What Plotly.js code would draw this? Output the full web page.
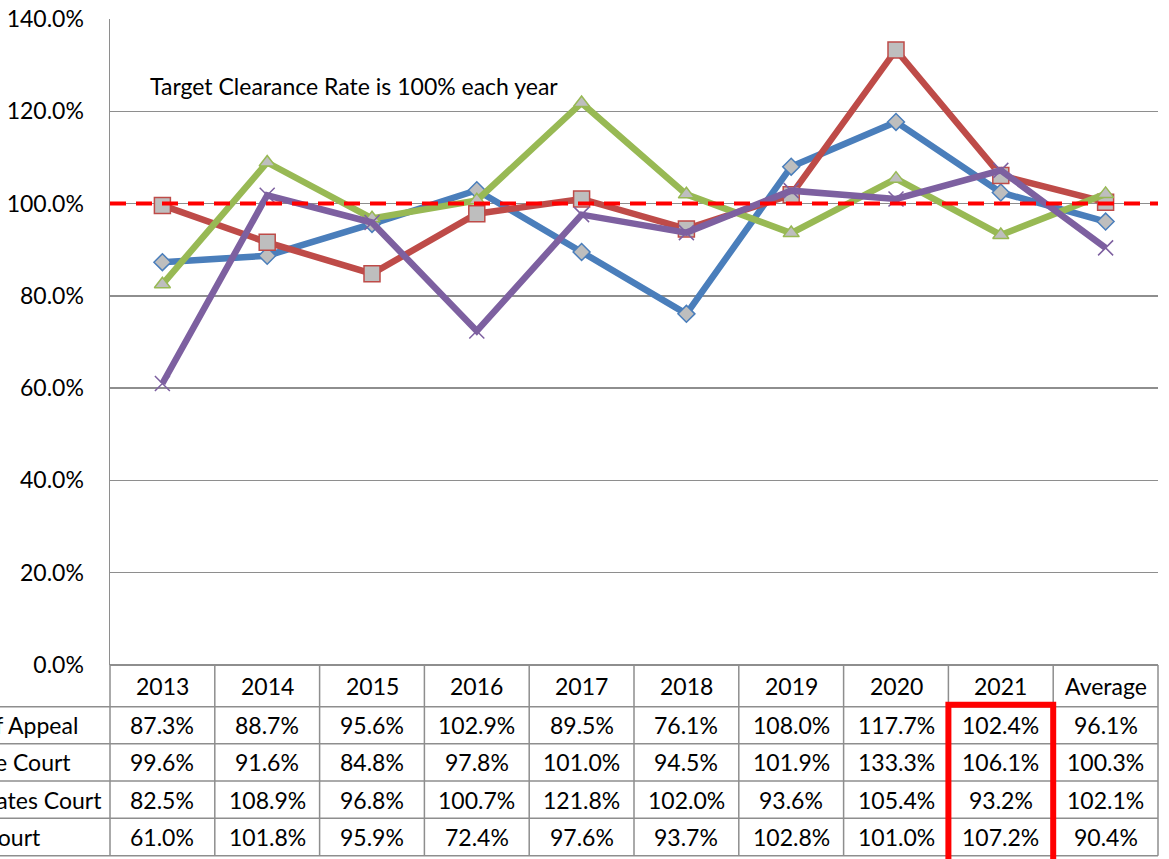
<!DOCTYPE html>
<html>
<head>
<meta charset="utf-8">
<script src="https://cdn.plot.ly/plotly-3.0.1.min.js"></script>
<style>
  html, body { margin: 0; padding: 0; background: #ffffff; }
  #chart { width: 1169px; height: 859px; }
</style>
</head>
<body>
<div id="chart"></div>
<script>
// ---- Data ----
const categories = ['2013', '2014', '2015', '2016', '2017', '2018', '2019', '2020', '2021', 'Average'];
const seriesNames = ['Court of Appeal', 'Supreme Court', 'Magistrates Court', 'Youth Court'];
const courtOfAppeal    = [87.3, 88.7, 95.6, 102.9, 89.5, 76.1, 108.0, 117.7, 102.4, 96.1];
const supremeCourt     = [99.6, 91.6, 84.8, 97.8, 101.0, 94.5, 101.9, 133.3, 106.1, 100.3];
const magistratesCourt = [82.5, 108.9, 96.8, 100.7, 121.8, 102.0, 93.6, 105.4, 93.2, 102.1];
const youthCourt       = [61.0, 101.8, 95.9, 72.4, 97.6, 93.7, 102.8, 101.0, 107.2, 90.4];
const targetRate = 100;
const targetNote = 'Target Clearance Rate is 100% each year';
const highlightCategory = '2021';

// ---- Styles ----
const seriesData = [courtOfAppeal, supremeCourt, magistratesCourt, youthCourt];
const colors = ['#4A7EBB', '#BE4B48', '#98B954', '#7D60A0'];
const symbols = ['diamond', 'square', 'triangle-up', 'x-thin'];
const msizes = [13, 16, 14, 15];
const FONT = 'Lato, "Open Sans", sans-serif';
const FS = 23;
const GRID = '#8E8E8E';

// geometry (pixels)
const W = 1169, H = 859;
const M = {l: 110, r: 11, t: 19, b: 194};
const plotW = W - M.l - M.r;
const plotH = H - M.t - M.b;
const plotBottom = H - M.b;
const py = p => (plotBottom - p) / plotH;        // pixel y -> paper y
const px = p => (p - M.l) / plotW;               // pixel x -> paper x
const rowEdges = [plotBottom, 706.7, 743.7, 781, 818.3, 855.7];
const labelEnds = [80, 73, 104, 43];

const traces = seriesData.map((vals, i) => ({
  type: 'scatter',
  mode: 'lines+markers',
  name: seriesNames[i],
  x: categories,
  y: vals,
  line: {color: colors[i], width: 6.5},
  marker: {
    symbol: symbols[i],
    size: msizes[i],
    color: symbols[i] === 'x-thin' ? colors[i] : '#BEBEBE',
    line: {color: colors[i], width: 1.5}
  },
  cliponaxis: false,
  hoverinfo: 'x+y+name'
}));

const shapes = [];
const annotations = [];

// target dashed line
shapes.push({
  type: 'line', xref: 'paper', yref: 'y', x0: 0, x1: 1, y0: targetRate, y1: targetRate,
  line: {color: '#FF0000', width: 4, dash: '16px,10px'}, layer: 'above'
});

// table horizontal lines
for (let k = 1; k < rowEdges.length; k++) {
  shapes.push({type: 'line', xref: 'paper', yref: 'paper',
    x0: px(-5), x1: 1, y0: py(rowEdges[k]), y1: py(rowEdges[k]),
    line: {color: GRID, width: 1.5}});
}
// table vertical lines
for (let c = 0; c <= categories.length; c++) {
  shapes.push({type: 'line', xref: 'paper', yref: 'paper',
    x0: c / categories.length, x1: c / categories.length,
    y0: 0, y1: py(rowEdges[rowEdges.length - 1]),
    line: {color: GRID, width: 1.5}});
}

// header texts (x given as category index on the category axis)
categories.forEach((cat, c) => {
  annotations.push({xref: 'x', yref: 'paper', x: c,
    y: py((rowEdges[0] + rowEdges[1]) / 2), text: cat, showarrow: false,
    xanchor: 'center', yanchor: 'middle', font: {family: FONT, size: FS, color: '#000'}});
});
// body texts
seriesData.forEach((vals, r) => {
  const yc = py((rowEdges[r + 1] + rowEdges[r + 2]) / 2);
  vals.forEach((v, c) => {
    annotations.push({xref: 'x', yref: 'paper', x: c, y: yc,
      text: v.toFixed(1) + '%', showarrow: false, xanchor: 'center', yanchor: 'middle',
      font: {family: FONT, size: FS, color: '#000'}});
  });
  annotations.push({xref: 'paper', yref: 'paper', x: px(labelEnds[r]), y: yc,
    text: seriesNames[r], showarrow: false, xanchor: 'right', yanchor: 'middle',
    font: {family: FONT, size: FS, color: '#000'}});
});

// target note
annotations.push({xref: 'paper', yref: 'paper', x: px(148), y: py(86),
  text: targetNote, showarrow: false, xanchor: 'left', yanchor: 'middle',
  font: {family: FONT, size: FS, color: '#000'}});

// highlight box around 2021 column
const hi = categories.indexOf(highlightCategory);
shapes.push({type: 'rect', xref: 'paper', yref: 'paper',
  x0: hi / categories.length, x1: (hi + 1) / categories.length,
  y0: py(704.7), y1: py(900),
  line: {color: '#FF0000', width: 6}, layer: 'above'});

const layout = {
  width: W, height: H,
  margin: M,
  paper_bgcolor: '#ffffff',
  plot_bgcolor: '#ffffff',
  showlegend: false,
  font: {family: FONT, size: FS, color: '#000'},
  xaxis: {
    type: 'category', range: [-0.5, categories.length - 0.5],
    showticklabels: false, ticks: '', showgrid: false, zeroline: false,
    showline: false, fixedrange: true
  },
  yaxis: {
    range: [0, 140], dtick: 20, tick0: 0,
    tickformat: '.1f', ticksuffix: '%',
    showgrid: true, gridcolor: GRID, gridwidth: 1.3,
    zeroline: true, zerolinecolor: GRID, zerolinewidth: 1.5,
    showline: true, linecolor: GRID, linewidth: 1.5,
    ticks: '', ticklabelstandoff: 20,
    tickfont: {family: FONT, size: FS, color: '#000'}, fixedrange: true
  },
  shapes: shapes,
  annotations: annotations
};

Plotly.newPlot('chart', traces, layout, {displayModeBar: false, staticPlot: true});
</script>
</body>
</html>
